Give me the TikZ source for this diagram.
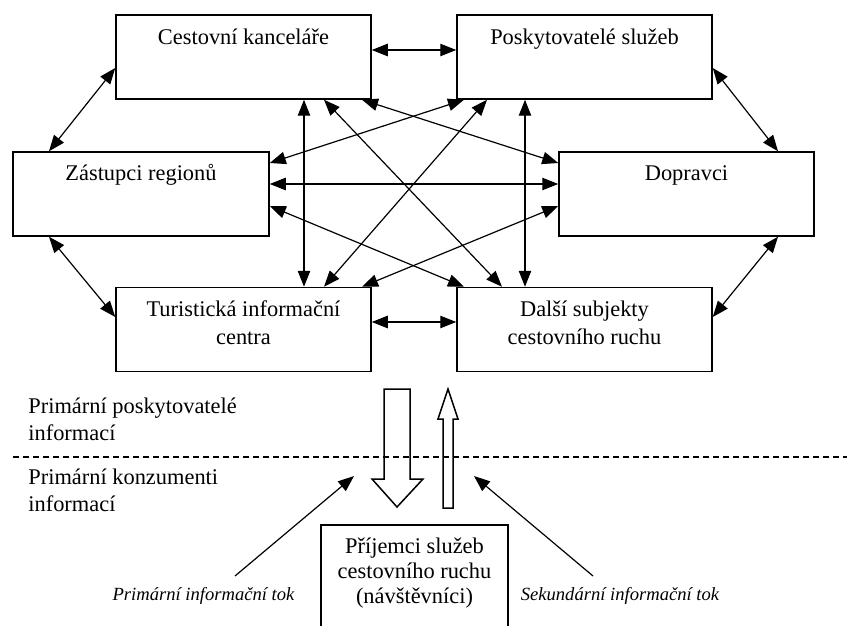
\documentclass[tikz,border=0pt]{standalone}
\usepackage{fontspec}
\setmainfont{Liberation Serif}
\usepackage{tikz}
\usetikzlibrary{arrows.meta,positioning,calc}

\begin{document}
\begin{tikzpicture}[
    x=0.5pt, y=-0.5pt,
    font=\fontsize{11.2}{14}\selectfont,
    >={Triangle[length=8pt,width=6.2pt]},
    unit/.style={draw, line width=0.75pt, minimum width=127.5pt, minimum height=42pt, inner sep=0pt},
    boxlabel/.style={inner sep=0pt, align=center},
    sidetext/.style={inner sep=0pt, align=left, anchor=north west, font=\fontsize{11.2}{13.5}\selectfont},
    flowtext/.style={inner sep=0pt, anchor=base, font=\fontsize{9.3}{11}\selectfont\itshape},
    arrow/.style={<->, line width=0.6pt},
    flow/.style={->, line width=0.6pt},
    block/.style={draw, line width=0.75pt},
    divider/.style={line width=0.6pt, dash pattern=on 3pt off 2pt}
  ]
    \useasboundingbox (0,0) rectangle (847,626);
    \clip (0,0) rectangle (847,626);

    % subjects offering information
    \node[unit] (ck) at (243.5,57) {};
    \node[unit] (ps) at (584.5,57) {};
    \node[unit, minimum width=128pt] (zr) at (141,194) {};
    \node[unit] (dp) at (686.5,194) {};
    \node[unit] (tic) at (243.5,329.5) {};
    \node[unit] (ds) at (584.5,329.5) {};
    \node[boxlabel, below=7pt of ck.north] (ckt) {Cestovní kanceláře};
    \node[boxlabel, below=7pt of ps.north] (pst) {Poskytovatelé služeb};
    \node[boxlabel, below=6.5pt of zr.north] (zrt) {Zástupci regionů};
    \node[boxlabel, below=7pt of dp.north] (dpt) {Dopravci};
    \node[boxlabel, below=7pt of tic.north] (tict) {Turistická informační\\centra};
    \node[boxlabel, below=7pt of ds.north] (dst) {Další subjekty\\cestovního ruchu};

    % links between them
    \draw[arrow] ($(ck.east)+(0,-7)$) -- ($(ps.west)+(0,-7)$);
    \draw[arrow] ($(tic.east)+(0,-7.5)$) -- ($(ds.west)+(0,-7.5)$);
    \draw[arrow] ($(ck.west)+(0,11)$) -- ($(zr.north)+(-92,0)$);
    \draw[arrow] ($(ps.east)+(0,11)$) -- ($(dp.north)+(91.5,0)$);
    \draw[arrow] ($(zr.south)+(-92,0)$) -- ($(tic.west)+(0,-12.5)$);
    \draw[arrow] ($(dp.south)+(91.5,0)$) -- ($(ds.east)+(0,-12.5)$);
    \draw[arrow] ($(ck.south)+(60.5,0)$) -- ($(tic.north)+(60.5,0)$);
    \draw[arrow] ($(ps.south)+(-59.5,0)$) -- ($(ds.north)+(-59.5,0)$);
    \draw[arrow] ($(ck.south)+(80.5,0)$) -- ($(ds.north)+(-82.5,0)$);
    \draw[arrow] ($(ck.south)+(118.5,0)$) -- ($(dp.west)+(0,-31)$);
    \draw[arrow] ($(ps.south)+(-120.5,0)$) -- ($(zr.east)+(0,-31)$);
    \draw[arrow] ($(ps.south)+(-97.5,0)$) -- ($(tic.north)+(80.5,0)$);
    \draw[arrow] ($(zr.east)+(0,-10)$) -- ($(dp.west)+(0,-10)$);
    \draw[arrow] ($(zr.east)+(0,12)$) -- ($(ds.north)+(-120.5,0)$);
    \draw[arrow] ($(dp.west)+(0,12)$) -- ($(tic.north)+(118.5,0)$);

    % providers / consumers
    \node[sidetext] (prov) at (28,398) {Primární poskytovatelé\\informací};
    \node[sidetext] (kons) at (28,469) {Primární konzumenti\\informací};
    \draw[divider] (13,457) -- (847,457);

    % information flows
    \draw[block] (384,389) -- (410,389) -- (410,479) -- (423,479) -- (397,507) -- (372,479) -- (384,479) -- cycle;
    \draw[block] (443,508) -- (443,419) -- (438,419) -- (448,389) -- (458,419) -- (453,419) -- (453,508) -- cycle;

    \node[unit, minimum width=93.5pt, minimum height=60pt] (pr) at (414.5,585) {};
    \node[boxlabel, below=6.5pt of pr.north, font=\fontsize{11.2}{12.5}\selectfont] (prt) {Příjemci služeb\\cestovního ruchu\\(návštěvníci)};

    \node[flowtext] (ptok) at (203.5,600) {Primární informační tok};
    \node[flowtext] (stok) at (620,600) {Sekundární informační tok};
    \coordinate (ptail) at (235,576);
    \coordinate (phead) at (354,476);
    \coordinate (stail) at (593,576);
    \coordinate (shead) at (474,476);
    \draw[flow] (ptail) -- (phead);
    \draw[flow] (stail) -- (shead);
  \end{tikzpicture}
\end{document}
